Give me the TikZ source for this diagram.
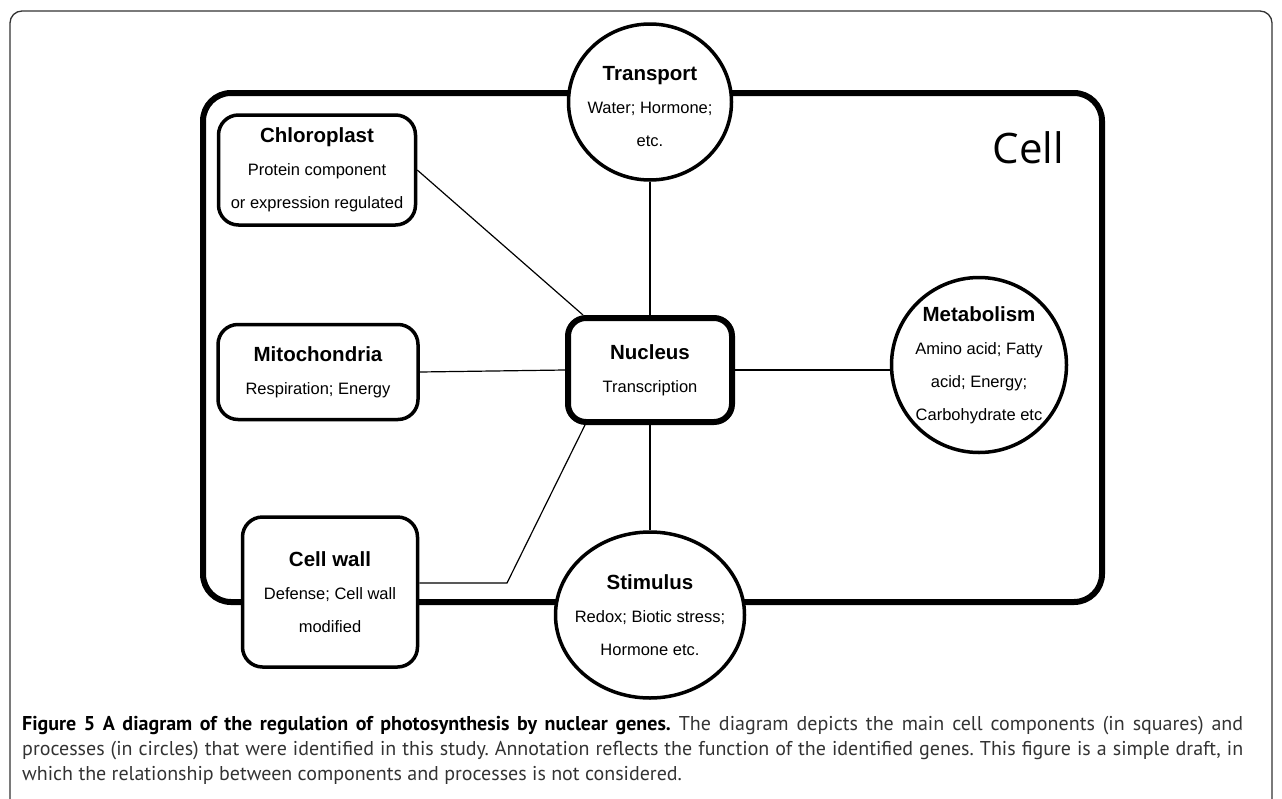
\documentclass[tikz,border=0pt]{standalone}
\usepackage{fontspec}
\setmainfont{Liberation Sans}
\newfontfamily\capfont{PT Sans}
\newfontfamily\cellfont{Open Sans}
\usetikzlibrary{shapes.geometric}

\newcommand{\comptitle}[1]{{\bfseries\fontsize{20.5}{33}\selectfont #1}}

\begin{document}
\frenchspacing
\begin{tikzpicture}[
    x=1pt, y=-1pt,
    comp/.style={rectangle, rounded corners=20pt, draw, line width=3.5pt, fill=white, inner sep=0pt},
    proc/.style={ellipse, draw, line width=3.5pt, fill=white, inner sep=0pt},
    desc/.style={align=center, inner sep=0pt, font=\fontsize{16.5}{33}\selectfont},
    link/.style={draw, line width=1.2pt},
    captxt/.style={anchor=base west, inner sep=0pt, text=black!80, font=\capfont\fontsize{20}{25}\selectfont}
]
\useasboundingbox (0,0) rectangle (1282,798);
% cornice esterna e cellula
\draw[line width=1.3pt, black!80, rounded corners=12pt] (10,830) -- (10,11) -- (1272,11) -- (1272,830);
\draw[line width=6pt, rounded corners=28pt] (203,93) rectangle (1102,602);
\node[anchor=base east, inner sep=0pt, font=\cellfont\fontsize{42}{42}\selectfont] (celllabel) at (1064,163) {Cell};

\node[comp, minimum width=197pt, minimum height=110pt] (chloro) at (317,170) {};
\node[desc] (chlorotext) at (chloro) {\comptitle{Chloroplast}\\Protein component\\or expression regulated};
\node[comp, minimum width=200pt, minimum height=95pt] (mito) at (318,372) {};
\node[desc] (mitotext) at (mito) {\comptitle{Mitochondria}\\Respiration; Energy};
\node[comp, minimum width=175pt, minimum height=150pt] (cellwall) at (330,592) {};
\node[desc] (cellwalltext) at (cellwall) {\comptitle{Cell wall}\\Defense; Cell wall\\modified};
\node[comp, line width=6pt, rounded corners=18pt, minimum width=164pt, minimum height=104pt] (nucleus) at (650,370) {};
\node[desc] (nucleustext) at (nucleus) {\comptitle{Nucleus}\\Transcription};

\node[proc, minimum width=163pt, minimum height=156pt] (transport) at (650,102) {};
\node[desc] (transporttext) at ([yshift=-5pt]transport) {\comptitle{Transport}\\Water; Hormone;\\etc.};
\node[proc, minimum width=189pt, minimum height=166pt] (stimulus) at (650,615) {};
\node[desc] (stimulustext) at (stimulus) {\comptitle{Stimulus}\\Redox; Biotic stress;\\Hormone etc.};
\node[proc, circle, minimum size=175pt] (metab) at (979,365) {};
\node[desc] (metabtext) at (metab) {\comptitle{Metabolism}\\Amino acid; Fatty\\acid; Energy;\\Carbohydrate etc};

\coordinate (bend) at (507,583);
\draw[link] (chloro.east) -- ([xshift=18pt]nucleus.north west);
\draw[link] (mito.east) -- (nucleus.west);
\draw[link] ([yshift=9pt]cellwall.east) -- (bend) -- ([xshift=20pt]nucleus.south west);
\draw[link] (nucleus.east) -- (nucleus.east -| metab.west);
\draw[link] (transport) -- (nucleus);
\draw[link] (nucleus) -- (stimulus);

% didascalia
\node[captxt] (cap1) at (22,730) {\makebox[1221pt][s]{\textcolor{black}{\bfseries Figure 5 A diagram of the regulation of photosynthesis by nuclear genes.} The diagram depicts the main cell components (in squares) and}};
\node[captxt] (cap2) at (22,755) {\makebox[1221pt][s]{processes (in circles) that were identified in this study. Annotation reflects the function of the identified genes. This figure is a simple draft, in}};
\node[captxt] (cap3) at (22,780) {which the relationship between components and processes is not considered.};
\end{tikzpicture}
\end{document}
